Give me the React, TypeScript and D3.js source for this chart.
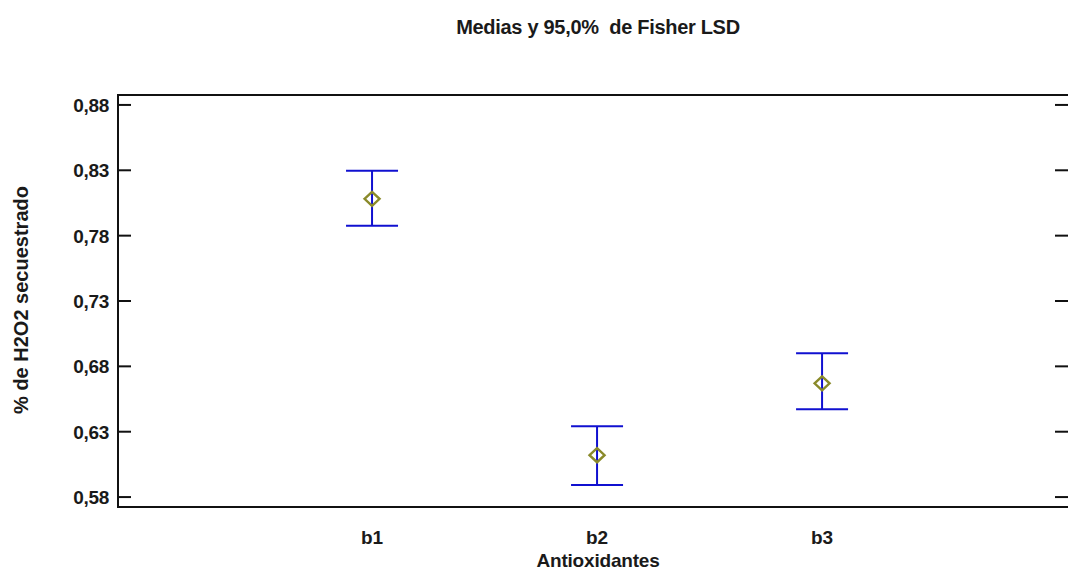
import React from "react";
import * as d3 from "d3";

// Antioxidant groups and their means with 95% Fisher LSD intervals
const categories = ["b1", "b2", "b3"];
const means = [0.8082, 0.612, 0.667];
const lower = [0.7876, 0.5892, 0.6472];
const upper = [0.8296, 0.6342, 0.69];
const yTicks = [0.58, 0.63, 0.68, 0.73, 0.78, 0.83, 0.88];

const W = 1068;
const H = 570;
const left = 118;
const right = 1067;
const top = 95;
const bottom = 507;

const fmt = (v: number) => d3.format(".2f")(v).replace(".", ",");

export default function App() {
  const y = d3.scaleLinear().domain([0.5724, 0.8876]).range([bottom, top]);
  const x = d3.scaleLinear().domain([-0.129, 4.093]).range([left, 1068]);
  const font = "'Liberation Sans', Arial, sans-serif";
  const blue = "#1010d0";
  const olive = "#8a8a2a";
  const ink = "#1a1a1a";
  const cap = 26;
  const dw = 7.5;
  const dh = 7;

  return (
    <svg
      width={W}
      height={H}
      style={{ position: "absolute", left: 0, top: 0, background: "#fff" }}
      fontFamily={font}
    >
      <text x={598} y={34} textAnchor="middle" fontSize={20} fontWeight="bold" fill={ink} letterSpacing={-0.3}>
        {"Medias y 95,0%\u00A0\u00A0de Fisher LSD"}
      </text>

      {/* frame */}
      <rect x={left} y={top} width={right - left + 4} height={bottom - top} fill="none" stroke="#111" strokeWidth={2} />

      {/* y ticks, both sides, pointing inward */}
      {yTicks.map((t) => (
        <g key={t}>
          <line x1={left} x2={left + 13} y1={y(t)} y2={y(t)} stroke="#111" strokeWidth={2} />
          <line x1={right - 12} x2={right + 2} y1={y(t)} y2={y(t)} stroke="#111" strokeWidth={2} />
          <text x={left - 9} y={y(t) + 7} textAnchor="end" fontSize={19} fontWeight="bold" fill={ink} letterSpacing={-0.3}>
            {fmt(t)}
          </text>
        </g>
      ))}

      {/* category labels */}
      {categories.map((c, i) => (
        <text key={c} x={x(i + 1)} y={544} textAnchor="middle" fontSize={19} fontWeight="bold" fill={ink}>
          {c}
        </text>
      ))}

      <text x={598} y={567} textAnchor="middle" fontSize={19} fontWeight="bold" fill={ink} letterSpacing={-0.2}>
        Antioxidantes
      </text>
      <text
        transform={`translate(28, 300) rotate(-90)`}
        textAnchor="middle"
        fontSize={20}
        fontWeight="bold"
        fill={ink}
      >
        % de H2O2 secuestrado
      </text>

      {/* interval bars and mean markers */}
      {categories.map((c, i) => {
        const cx = x(i + 1);
        const cy = y(means[i]);
        return (
          <g key={c}>
            <line x1={cx} x2={cx} y1={y(upper[i])} y2={y(lower[i])} stroke={blue} strokeWidth={2} />
            <line x1={cx - cap} x2={cx + cap} y1={y(upper[i])} y2={y(upper[i])} stroke={blue} strokeWidth={2} />
            <line x1={cx - cap} x2={cx + cap} y1={y(lower[i])} y2={y(lower[i])} stroke={blue} strokeWidth={2} />
            <path
              d={`M${cx - dw},${cy} L${cx},${cy - dh} L${cx + dw},${cy} L${cx},${cy + dh} Z`}
              fill="none"
              stroke={olive}
              strokeWidth={2.4}
            />
          </g>
        );
      })}
    </svg>
  );
}
